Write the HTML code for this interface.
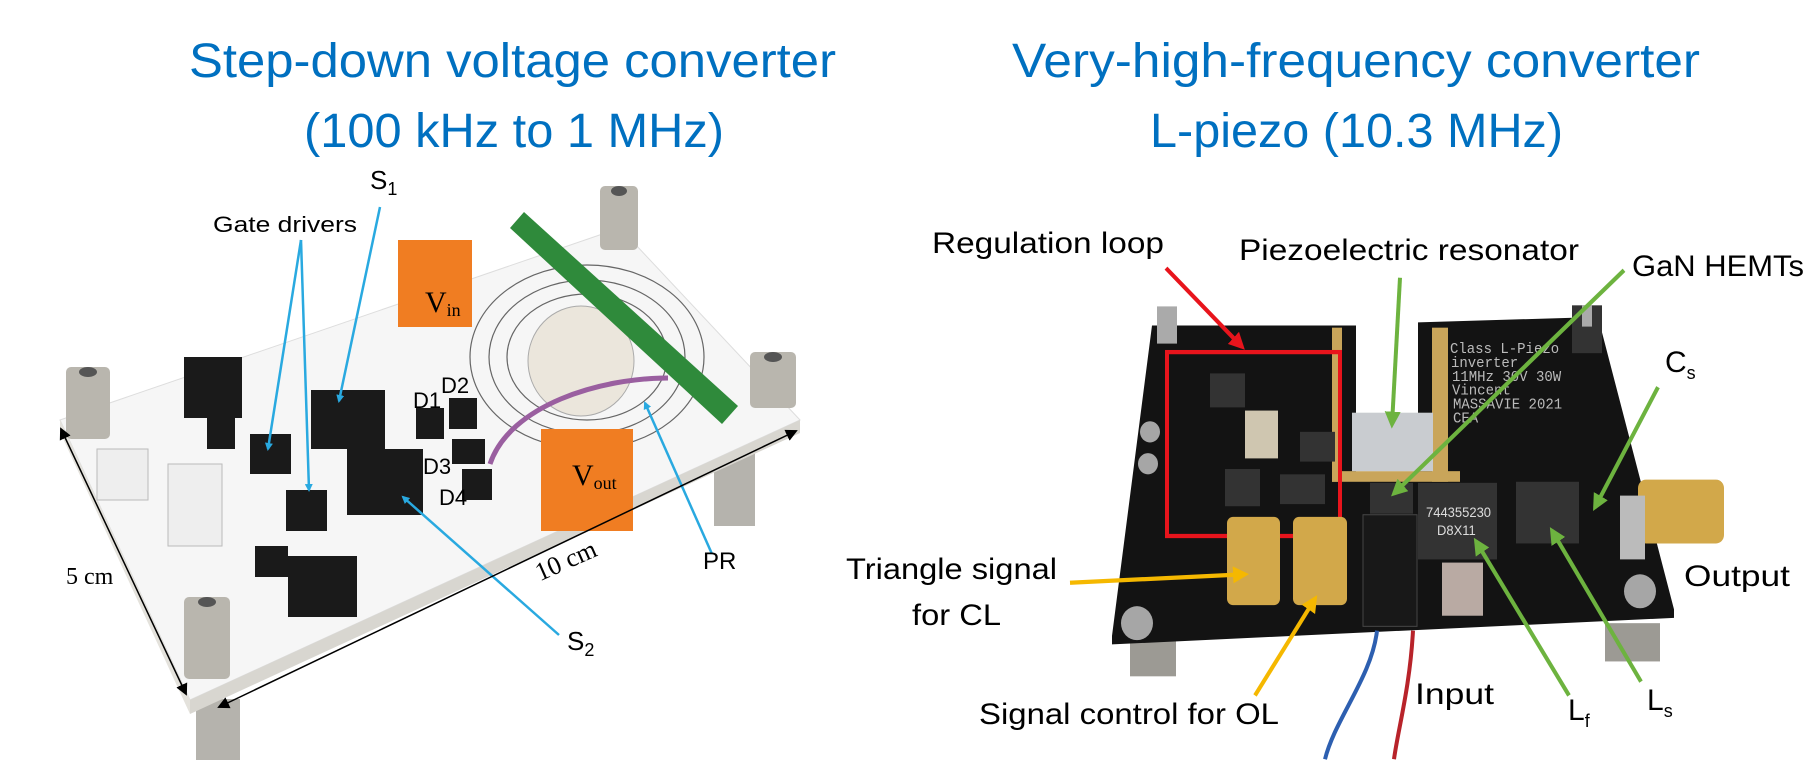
<!DOCTYPE html>
<html><head><meta charset="utf-8"><style>
body{margin:0;width:1815px;height:760px;background:#fff;overflow:hidden;font-family:"Liberation Sans",sans-serif}
svg{position:absolute;left:0;top:0;overflow:hidden}
</style></head><body>
<svg width="1815" height="760" viewBox="0 0 1815 760" font-family="Liberation Sans, sans-serif">
<defs>
<marker id="ab" markerWidth="8" markerHeight="8" refX="6" refY="4" orient="auto" markerUnits="userSpaceOnUse"><path d="M0,0L8,4L0,8z" fill="#29a9e0"/></marker>
<marker id="ag" markerWidth="16" markerHeight="16" refX="12" refY="8" orient="auto" markerUnits="userSpaceOnUse"><path d="M0,0L16,8L0,16z" fill="#6db33f"/></marker>
<marker id="ay" markerWidth="16" markerHeight="16" refX="12" refY="8" orient="auto" markerUnits="userSpaceOnUse"><path d="M0,0L16,8L0,16z" fill="#f5b800"/></marker>
<marker id="ar" markerWidth="16" markerHeight="16" refX="12" refY="8" orient="auto" markerUnits="userSpaceOnUse"><path d="M0,0L16,8L0,16z" fill="#e8141c"/></marker>
<marker id="ak" markerWidth="12" markerHeight="12" refX="10" refY="6" orient="auto" markerUnits="userSpaceOnUse"><path d="M0,0L12,6L0,12z" fill="#000"/></marker>
<marker id="aks" markerWidth="12" markerHeight="12" refX="2" refY="6" orient="auto" markerUnits="userSpaceOnUse"><path d="M12,0L0,6L12,12z" fill="#000"/></marker>
</defs>
<g fill="#0070c0" font-size="48">
<text x="189" y="77" textLength="647" lengthAdjust="spacingAndGlyphs">Step-down voltage converter</text>
<text x="304" y="147" textLength="420" lengthAdjust="spacingAndGlyphs">(100 kHz to 1 MHz)</text>
<text x="1012" y="77" textLength="688" lengthAdjust="spacingAndGlyphs">Very-high-frequency converter</text>
<text x="1150" y="147" textLength="413" lengthAdjust="spacingAndGlyphs">L-piezo (10.3 MHz)</text>
</g>
<!-- LEFT BOARD -->
<rect x="196" y="699" width="44" height="61" fill="#b5b3ad"/>
<rect x="714" y="450" width="41" height="76" fill="#b5b3ad"/>
<polygon points="60,420 620,228 800,420 190,700" fill="#f6f6f6" stroke="#ddd"/>
<polygon points="190,700 800,420 800,433 190,714" fill="#d8d6d0"/>
<polygon points="60,420 190,700 190,714 60,432" fill="#e4e2dc"/>
<g fill="#b9b6ae"><rect x="66" y="367" width="44" height="72" rx="5"/><rect x="600" y="186" width="38" height="64" rx="5"/><rect x="750" y="352" width="46" height="56" rx="5"/><rect x="184" y="597" width="46" height="82" rx="5"/></g>
<g fill="#555"><ellipse cx="88" cy="372" rx="9" ry="5"/><ellipse cx="619" cy="191" rx="8" ry="5"/><ellipse cx="773" cy="357" rx="9" ry="5"/><ellipse cx="207" cy="602" rx="9" ry="5"/></g>
<g fill="none" stroke="#666" stroke-width="1.2"><ellipse cx="587" cy="357" rx="117" ry="92"/><ellipse cx="587" cy="357" rx="98" ry="77"/><ellipse cx="587" cy="357" rx="80" ry="63"/></g>
<ellipse cx="581" cy="361" rx="53" ry="55" fill="#ebe6dc" stroke="#aaa"/>
<polygon points="510,228 524,212 738,406 722,424" fill="#2f8a3b"/>
<rect x="398" y="240" width="74" height="87" fill="#f07d22"/><text x="425" y="312" font-size="30" font-family="Liberation Serif">V<tspan font-size="18" dy="4">in</tspan></text>
<rect x="541" y="429" width="92" height="102" fill="#f07d22"/><text x="572" y="485" font-size="30" font-family="Liberation Serif">V<tspan font-size="18" dy="4">out</tspan></text>
<g fill="#1a1a1a"><rect x="184" y="357" width="58" height="61"/><rect x="311" y="390" width="74" height="59"/><rect x="347" y="449" width="76" height="66"/><rect x="250" y="434" width="41" height="40"/><rect x="286" y="490" width="41" height="41"/><rect x="288" y="556" width="69" height="61"/><rect x="207" y="418" width="28" height="31"/><rect x="255" y="546" width="33" height="31"/><rect x="416" y="408" width="28" height="31"/><rect x="449" y="398" width="28" height="31"/><rect x="452" y="439" width="33" height="25"/><rect x="462" y="469" width="30" height="31"/></g>
<rect x="97" y="449" width="51" height="51" fill="#eee" stroke="#bbb"/><rect x="168" y="464" width="54" height="82" fill="#eee" stroke="#bbb"/>
<path d="M490,464 C510,405 600,378 668,378" stroke="#9a5fa0" stroke-width="5" fill="none"/>
<g stroke="#29a9e0" stroke-width="2.5" fill="none">
<line x1="301" y1="240" x2="268" y2="449" marker-end="url(#ab)"/><line x1="301" y1="240" x2="309" y2="490" marker-end="url(#ab)"/>
<line x1="380" y1="207" x2="339" y2="401" marker-end="url(#ab)"/>
<line x1="559" y1="635" x2="403" y2="497" marker-end="url(#ab)"/>
<line x1="712" y1="554" x2="645" y2="403" marker-end="url(#ab)"/>
</g>
<line x1="61" y1="429" x2="186" y2="694" stroke="#000" stroke-width="1.5" marker-start="url(#aks)" marker-end="url(#ak)"/>
<line x1="219" y1="707" x2="796" y2="431" stroke="#000" stroke-width="1.5" marker-start="url(#aks)" marker-end="url(#ak)"/>
<g font-size="22">
<text x="213" y="232" textLength="144" lengthAdjust="spacingAndGlyphs">Gate drivers</text>
<text x="370" y="189" font-size="26">S<tspan font-size="18" dy="6">1</tspan></text>
<text x="413" y="408">D1</text><text x="441" y="393">D2</text><text x="423" y="474">D3</text><text x="439" y="505">D4</text>
<text x="66" y="584" font-family="Liberation Serif" font-size="24">5 cm</text>
<text x="566" y="569" font-family="Liberation Serif" font-size="26" text-anchor="middle" transform="rotate(-24 566 561)">10 cm</text>
<text x="703" y="569" font-size="24">PR</text>
<text x="567" y="650" font-size="26">S<tspan font-size="18" dy="6">2</tspan></text></g>
<!-- RIGHT BOARD -->
<g transform="matrix(1 0 0 1.063 0 -4)">
<rect x="1130" y="595" width="46" height="45" fill="#9c9a94"/><rect x="1605" y="590" width="55" height="36" fill="#9c9a94"/>
<polygon points="1152,310 1356,310 1356,450 1418,450 1418,307 1598,302 1674,577 1674,585 1112,610 1112,602" fill="#131313"/>
<rect x="1332" y="312" width="10" height="145" fill="#c9a55a"/><rect x="1332" y="447" width="128" height="10" fill="#c9a55a"/>
<rect x="1432" y="312" width="16" height="145" fill="#c9a55a"/>
<rect x="1352" y="392" width="81" height="55" fill="#c9ccd0"/>
<rect x="1157" y="292" width="20" height="35" fill="#aaa"/><rect x="1572" y="291" width="30" height="45" fill="#333"/><rect x="1582" y="291" width="10" height="20" fill="#aaa"/>
<g fill="#a6a6a6"><circle cx="1150" cy="410" r="10"/><circle cx="1148" cy="440" r="10"/><circle cx="1137" cy="590" r="16"/><circle cx="1640" cy="560" r="16"/></g>
<rect x="1167" y="335" width="173" height="173" fill="none" stroke="#e8141c" stroke-width="4"/>
<g fill="#333"><rect x="1210" y="355" width="35" height="32"/><rect x="1225" y="445" width="35" height="35"/><rect x="1300" y="410" width="35" height="28"/><rect x="1280" y="450" width="45" height="28"/><rect x="1370" y="458" width="43" height="29"/><rect x="1516" y="457" width="63" height="58"/><rect x="1418" y="458" width="79" height="72"/></g>
<rect x="1245" y="390" width="33" height="45" fill="#cfc6b0"/>
<rect x="1363" y="488" width="54" height="105" fill="#181818" stroke="#444"/>
<g fill="#d2a84a"><rect x="1227" y="490" width="53" height="83" rx="6"/><rect x="1293" y="490" width="54" height="83" rx="6"/><rect x="1638" y="455" width="86" height="60" rx="8"/></g>
<rect x="1620" y="470" width="25" height="60" fill="#bbb"/>
<rect x="1442" y="533" width="41" height="50" fill="#b9aaa3"/>
<text x="1426" y="490" font-size="13" fill="#ddd">744355230</text><text x="1437" y="507" font-size="13" fill="#ddd">D8X11</text>
<g fill="#bbb" font-size="14" font-family="Liberation Mono"><text x="1450" y="336">Class L-Piezo</text><text x="1451" y="349">inverter</text><text x="1452" y="362">11MHz 30V 30W</text><text x="1452" y="375">Vincent</text><text x="1453" y="388">MASSAVIE 2021</text><text x="1453" y="401">CEA</text></g>
<path d="M1377,597 C1372,640 1335,680 1325,718" stroke="#2d5fb0" stroke-width="4" fill="none"/>
<path d="M1413,597 C1410,650 1398,690 1394,718" stroke="#b8232a" stroke-width="4" fill="none"/>
<g stroke-width="4" fill="none">
<line x1="1166" y1="256" x2="1242" y2="330" stroke="#e8141c" marker-end="url(#ar)"/>
<line x1="1400" y1="265" x2="1392" y2="403" stroke="#6db33f" marker-end="url(#ag)"/>
<line x1="1624" y1="258" x2="1394" y2="468" stroke="#6db33f" marker-end="url(#ag)"/>
<line x1="1658" y1="368" x2="1595" y2="481" stroke="#6db33f" marker-end="url(#ag)"/>
<line x1="1569" y1="658" x2="1476" y2="513" stroke="#6db33f" marker-end="url(#ag)"/>
<line x1="1641" y1="645" x2="1552" y2="503" stroke="#6db33f" marker-end="url(#ag)"/>
<line x1="1070" y1="552" x2="1245" y2="544" stroke="#f5b800" marker-end="url(#ay)"/>
<line x1="1255" y1="658" x2="1315" y2="567" stroke="#f5b800" marker-end="url(#ay)"/>
</g>
</g>
<g font-size="30" fill="#000">
<text x="932" y="253" textLength="232" lengthAdjust="spacingAndGlyphs">Regulation loop</text>
<text x="1239" y="260" textLength="340" lengthAdjust="spacingAndGlyphs">Piezoelectric resonator</text>
<text x="1632" y="276" textLength="172" lengthAdjust="spacingAndGlyphs">GaN HEMTs</text>
<text x="1665" y="372">C<tspan font-size="18" dy="7">s</tspan></text>
<text x="1684" y="586" textLength="106" lengthAdjust="spacingAndGlyphs">Output</text>
<text x="846" y="579" textLength="211" lengthAdjust="spacingAndGlyphs">Triangle signal</text>
<text x="912" y="625" textLength="89" lengthAdjust="spacingAndGlyphs">for CL</text>
<text x="979" y="724" textLength="300" lengthAdjust="spacingAndGlyphs">Signal control for OL</text>
<text x="1415" y="704" textLength="79" lengthAdjust="spacingAndGlyphs">Input</text>
<text x="1568" y="720">L<tspan font-size="18" dy="7">f</tspan></text>
<text x="1647" y="710">L<tspan font-size="18" dy="7">s</tspan></text>
</g>
</svg>
</body></html>
